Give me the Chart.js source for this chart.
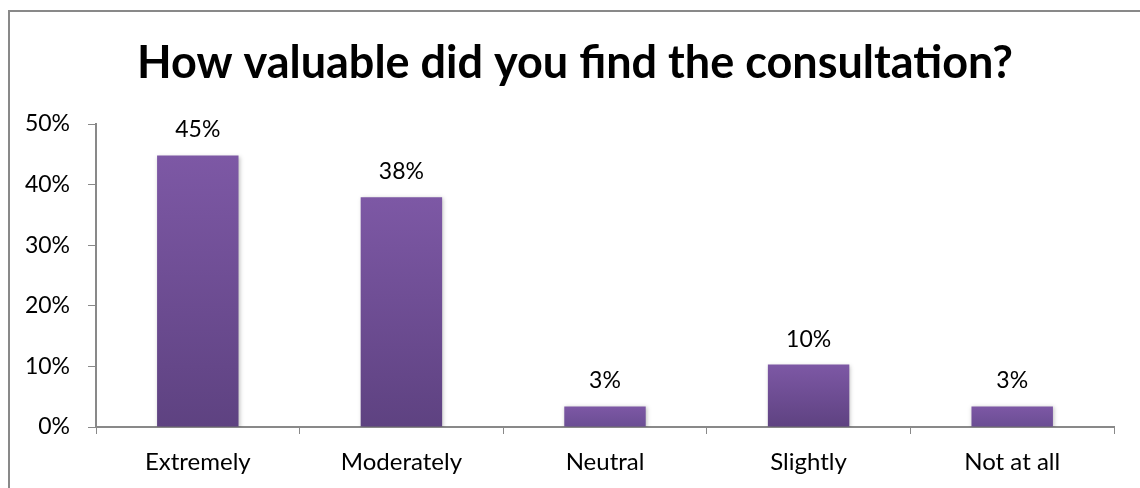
<!DOCTYPE html>
<html>
<head>
<meta charset="utf-8">
<script src="https://cdn.jsdelivr.net/npm/chart.js@4/dist/chart.umd.min.js"></script>
<style>
  html, body { margin: 0; padding: 0; background: #fff; }
  #wrap { width: 1140px; height: 488px; }
</style>
</head>
<body>
<div id="wrap"><canvas id="chart" width="1140" height="488"></canvas></div>
<script>
// data (29 answers: 13, 11, 1, 3, 1)
const categories = ['Extremely', 'Moderately', 'Neutral', 'Slightly', 'Not at all'];
const shares = [44.8, 37.9, 3.4, 10.3, 3.4];
const yTicks = [0, 10, 20, 30, 40, 50];

const chartTitle = 'How valuable did you find the consultation?';
const fontFamily = 'Lato, "Open Sans", sans-serif';
const axisGray = '#898989';

// gray frame (only left and top edges fall inside the picture) + title
const framePlugin = {
    id: 'frame',
    beforeDraw(chart) {
        const ctx = chart.ctx;
        ctx.save();
        ctx.strokeStyle = axisGray;
        ctx.lineWidth = 2;
        ctx.strokeRect(9, 11, 1160, 500);
        ctx.fillStyle = '#000';
        ctx.font = 'bold 45px ' + fontFamily;
        ctx.textAlign = 'center';
        ctx.textBaseline = 'alphabetic';
        ctx.fillText(chartTitle, 575, 78);
        ctx.restore();
    }
};

// soft shadow under the bars
const shadowPlugin = {
    id: 'barShadow',
    beforeDatasetDraw(chart) {
        const ctx = chart.ctx;
        ctx.save();
        ctx.shadowColor = 'rgba(0,0,0,0.25)';
        ctx.shadowBlur = 4;
        ctx.shadowOffsetX = 1;
        ctx.shadowOffsetY = 1;
    },
    afterDatasetDraw(chart) {
        chart.ctx.restore();
    }
};

// percentage labels above each bar
const valueLabels = {
    id: 'valueLabels',
    afterDatasetsDraw(chart) {
        const ctx = chart.ctx;
        const meta = chart.getDatasetMeta(0);
        ctx.save();
        ctx.fillStyle = '#000';
        ctx.font = '23px ' + fontFamily;
        ctx.textAlign = 'center';
        ctx.textBaseline = 'bottom';
        meta.data.forEach((bar, i) => {
            ctx.fillText(Math.round(shares[i]) + '%', bar.x, bar.y - 14);
        });
        ctx.restore();
    }
};

function barGradient(context) {
    const chart = context.chart;
    if (!chart.chartArea || context.parsed == null) return '#7152a0';
    const y = chart.scales.y;
    const top = y.getPixelForValue(context.parsed.y);
    const bottom = y.getPixelForValue(0);
    const g = chart.ctx.createLinearGradient(0, top, 0, bottom);
    const frac = context.parsed.y / 50;
    g.addColorStop(0, '#7d58a5');
    g.addColorStop(1, frac > 0.2 ? '#5e4281' : '#6a4d93');
    return g;
}

const ctx = document.getElementById('chart').getContext('2d');
new Chart(ctx, {
    type: 'bar',
    data: {
        labels: categories,
        datasets: [{
            data: shares,
            backgroundColor: barGradient,
            borderWidth: 0,
            barPercentage: 0.4,
            categoryPercentage: 1.0
        }]
    },
    options: {
        responsive: false,
        animation: false,
        layout: { padding: { left: 18, right: 26, top: 124, bottom: 0 } },
        plugins: {
            legend: { display: false },
            tooltip: { enabled: false },
            title: { display: false }
        },
        scales: {
            x: {
                afterFit(axis) {
                    axis.height = 61;
                },
                grid: {
                    display: true,
                    drawOnChartArea: false,
                    tickLength: 7,
                    color: axisGray,
                    offset: true
                },
                border: { color: axisGray, width: 2 },
                ticks: { color: '#000', font: { family: fontFamily, size: 24 }, padding: 14 }
            },
            y: {
                min: 0,
                max: 50,
                afterBuildTicks(axis) {
                    axis.ticks = yTicks.map(v => ({ value: v }));
                },
                afterFit(axis) {
                    axis.width = 78;
                },
                grid: {
                    display: true,
                    drawOnChartArea: false,
                    tickLength: 8,
                    color: axisGray
                },
                border: { color: axisGray, width: 2 },
                ticks: {
                    color: '#000',
                    font: { family: fontFamily, size: 23 },
                    padding: 18,
                    callback: v => v + '%'
                }
            }
        }
    },
    plugins: [framePlugin, shadowPlugin, valueLabels]
});
</script>
</body>
</html>
